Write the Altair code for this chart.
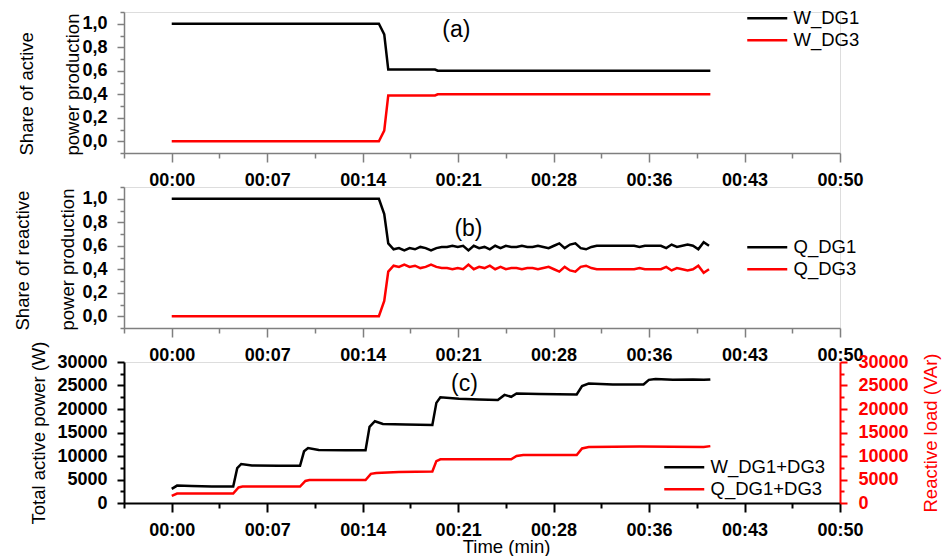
import json
import altair as alt
import pandas as pd

FONT = "Liberation Sans"
BLACK = "#000000"
RED = "#ff0000"
GREY = "#7f7f7f"

# ---------------- time axis (minutes) ----------------
X_MIN, X_MAX = -25 / 7, 50.0
X_TICK_VALUES = [X_MIN + i * 25 / 7 for i in range(16)]
X_TICK_LABELS = ["00:00", "00:07", "00:14", "00:21", "00:28", "00:36", "00:43", "00:50"]

# ---------------- (a) share of active power ----------------
T_ACTIVE = [0.0, 15.5, 15.9, 16.2, 19.7, 19.9, 40.3]
W_DG1 = [1.0, 1.0, 0.91, 0.61, 0.61, 0.60, 0.60]
W_DG3 = [0.0, 0.0, 0.09, 0.39, 0.39, 0.40, 0.40]

# ---------------- (b) share of reactive power ----------------
T_REACTIVE_HEAD = [0.0, 15.5, 15.9, 16.2]
Q_DG1_HEAD = [1.0, 1.0, 0.87, 0.62]
Q_DG3_HEAD = [0.0, 0.0, 0.13, 0.38]
# logged every 0.4 min from 16.6 min on
Q_DG1_TAIL = [0.57, 0.58, 0.56, 0.58, 0.57, 0.59, 0.58, 0.56, 0.58, 0.59,
              0.59, 0.60, 0.59, 0.60, 0.56, 0.60, 0.58, 0.59, 0.57, 0.60,
              0.58, 0.60, 0.59, 0.59, 0.60, 0.59, 0.59, 0.60, 0.59, 0.58,
              0.60, 0.62, 0.58, 0.61, 0.62, 0.58, 0.57, 0.59, 0.60, 0.60,
              0.60, 0.60, 0.60, 0.60, 0.60, 0.60, 0.59, 0.60, 0.60, 0.60,
              0.60, 0.58, 0.61, 0.59, 0.60, 0.61, 0.60, 0.57, 0.63, 0.60]
Q_DG3_TAIL = [0.43, 0.42, 0.44, 0.42, 0.43, 0.41, 0.42, 0.44, 0.42, 0.41,
              0.41, 0.40, 0.41, 0.40, 0.44, 0.40, 0.42, 0.41, 0.43, 0.40,
              0.42, 0.40, 0.41, 0.41, 0.40, 0.41, 0.41, 0.40, 0.41, 0.42,
              0.40, 0.38, 0.42, 0.39, 0.38, 0.42, 0.43, 0.41, 0.40, 0.40,
              0.40, 0.40, 0.40, 0.40, 0.40, 0.40, 0.41, 0.40, 0.40, 0.40,
              0.40, 0.42, 0.39, 0.41, 0.40, 0.39, 0.40, 0.43, 0.37, 0.40]
T_REACTIVE_TAIL = [round(16.6 + 0.4 * i, 1) for i in range(len(Q_DG1_TAIL))]

# ---------------- (c) totals ----------------
T_W_TOTAL = [0.0, 0.4, 1.5, 3.0, 4.6, 4.9, 5.2, 6.0, 8.0, 9.6, 9.9, 10.2, 11.0,
             13.0, 14.5, 14.8, 15.2, 15.8, 17.5, 19.5, 19.8, 20.1, 21.5, 23.0,
             24.4, 24.9, 25.4, 25.8, 27.5, 30.3, 30.7, 31.2, 33.0, 35.3, 35.7,
             36.2, 37.5, 39.0, 39.8, 40.3]
W_TOTAL = [3000, 3700, 3600, 3500, 3500, 7400, 8300, 8000, 7900, 7900, 11000,
           11700, 11300, 11200, 11200, 16200, 17400, 16800, 16700, 16600, 21300,
           22500, 22200, 22000, 21900, 23000, 22600, 23300, 23200, 23100, 24900,
           25400, 25200, 25200, 26200, 26400, 26200, 26300, 26200, 26300]
T_Q_TOTAL = [0.0, 0.4, 4.6, 5.0, 5.3, 9.6, 10.0, 10.3, 14.5, 14.9, 15.3, 17.0,
             19.5, 19.8, 20.1, 23.0, 25.4, 25.8, 26.3, 30.3, 30.7, 31.2, 35.0,
             39.8, 40.3]
Q_TOTAL = [1500, 2000, 2000, 3300, 3500, 3500, 4700, 4900, 4900, 6200, 6400,
           6600, 6700, 8900, 9300, 9300, 9300, 10000, 10200, 10200, 11600, 11900,
           12000, 11900, 12100]

PANEL_TAGS = ["(a)", "(b)", "(c)"]
TAG_T = [21.3, 22.2, 21.9]
TAG_V = [0.95, 0.74, 25300]

W = 716
H = 141

MAJOR_X = "abs(datum.value*7/50 - round(datum.value*7/50)) < 0.001"
X_LABEL_EXPR = (f"{MAJOR_X} ? {json.dumps(X_TICK_LABELS)}[round(datum.value*7/50)] : ''")


def x_axis(color, width, title=None, **extra):
    kw = dict(
        values=X_TICK_VALUES, labelExpr=X_LABEL_EXPR, labelFlush=False,
        labelOverlap=False, grid=False, domainColor=color, domainWidth=width,
        tickColor=color, tickWidth=width,
        tickSize={"condition": {"test": MAJOR_X, "value": 9}, "value": 5},
        labelFont=FONT, labelFontSize=18, labelFontWeight="bold",
        labelColor=BLACK, labelPadding=9, labelBaseline="top",
    )
    kw.update(extra)
    if title is not None:
        kw.update(title=title, titleFont=FONT, titleFontSize=18.5,
                  titleFontWeight="normal", titleColor=BLACK)
    else:
        kw.update(title=None)
    return alt.Axis(**kw)


X_SCALE = alt.Scale(domain=[X_MIN, X_MAX], nice=False, zero=False)

SHARE_TICKS = [round(-0.1 + 0.1 * i, 1) for i in range(13)]
MAJOR_SHARE = "abs(datum.value*5 - round(datum.value*5)) < 0.001"


def share_axis(title_lines, title_x, line_height):
    return alt.Axis(
        values=SHARE_TICKS, grid=False, labelOverlap=False, labelFlush=False,
        labelExpr=f"{MAJOR_SHARE} ? replace(format(datum.value, '.1f'), '.', ',') : ''",
        tickSize={"condition": {"test": MAJOR_SHARE, "value": 7}, "value": 4},
        domainColor=GREY, domainWidth=1.5, tickColor=GREY, tickWidth=1.5,
        labelFont=FONT, labelFontSize=18, labelFontWeight="bold", labelColor=BLACK,
        labelPadding=10,
        title=title_lines, titleFont=FONT, titleFontSize=18.5, titleFontWeight="normal",
        titleColor=BLACK, titleAngle=270, titleAlign="left", titleBaseline="bottom",
        titleLineHeight=line_height, titleX=title_x, titleY=H + 2,
    )


POWER_TICKS = [2500 * i for i in range(13)]
MAJOR_POWER = "datum.value % 5000 == 0"


def power_axis(color, orient, title, title_x, label_pad):
    return alt.Axis(
        orient=orient, values=POWER_TICKS, grid=False, labelOverlap=False,
        labelFlush=False,
        labelExpr=f"{MAJOR_POWER} ? format(datum.value, 'd') : ''",
        tickSize={"condition": {"test": MAJOR_POWER, "value": 7}, "value": 4},
        domainColor=color, domainWidth=2, tickColor=color, tickWidth=2,
        labelFont=FONT, labelFontSize=18, labelFontWeight="bold", labelColor=color,
        labelPadding=label_pad,
        title=title, titleFont=FONT, titleFontSize=18.5, titleFontWeight="normal",
        titleColor=color, titleAngle=270, titleX=title_x,
    )


# a short horizontal stroke as the legend swatch (unit path scaled by the symbol size)
LEGEND_SWATCH = "M-4,0L4,0"


def legend(x, y):
    return alt.Legend(
        orient="none", legendX=x, legendY=y, title=None, symbolType=LEGEND_SWATCH,
        symbolSize=100, symbolStrokeWidth=2.5, labelFont=FONT, labelFontSize=18.5,
        labelColor=BLACK, labelOffset=17, rowPadding=3,
    )


def tag_layer(i, x_axis_obj, y_scale, y_axis_obj):
    df = pd.DataFrame({"t": [TAG_T[i]], "v": [TAG_V[i]], "tag": [PANEL_TAGS[i]]})
    return alt.Chart(df).mark_text(font=FONT, fontSize=23, color=BLACK).encode(
        x=alt.X("t:Q", scale=X_SCALE, axis=x_axis_obj),
        y=alt.Y("v:Q", scale=y_scale, axis=y_axis_obj),
        text="tag:N",
    )


def share_panel(times, a, b, names, tag_idx, title_lines, title_x, line_h, leg_xy):
    n = len(times)
    df = pd.DataFrame({"t": times * 2, "v": a + b, "s": [names[0]] * n + [names[1]] * n})
    y_scale = alt.Scale(domain=[-0.1, 1.1], nice=False, zero=False)
    xa = x_axis(GREY, 1.5)
    ya = share_axis(title_lines, title_x, line_h)
    line = alt.Chart(df).mark_line(strokeWidth=2.5).encode(
        x=alt.X("t:Q", scale=X_SCALE, axis=xa),
        y=alt.Y("v:Q", scale=y_scale, axis=ya),
        color=alt.Color("s:N", scale=alt.Scale(domain=names, range=[BLACK, RED]),
                        legend=legend(*leg_xy)),
    )
    return alt.layer(line, tag_layer(tag_idx, xa, y_scale, ya)).properties(width=W, height=H)


panel_a = share_panel(T_ACTIVE, W_DG1, W_DG3, ["W_DG1", "W_DG3"], 0,
                      ["Share of active", "power production"], -88, 46, (634, -3))
panel_b = share_panel(T_REACTIVE_HEAD + T_REACTIVE_TAIL,
                      Q_DG1_HEAD + Q_DG1_TAIL, Q_DG3_HEAD + Q_DG3_TAIL,
                      ["Q_DG1", "Q_DG3"], 1,
                      ["Share of reactive", "power production"], -92, 45, (634, 51))

# ---- (c) totals with dual y axes ----
TOTAL_NAMES = ["W_DG1+DG3", "Q_DG1+DG3"]
df_w = pd.DataFrame({"t": T_W_TOTAL, "v": W_TOTAL, "s": TOTAL_NAMES[0]})
df_q = pd.DataFrame({"t": T_Q_TOTAL, "v": Q_TOTAL, "s": TOTAL_NAMES[1]})
power_scale = alt.Scale(domain=[0, 30000], nice=False, zero=False)
color_c = alt.Color("s:N", scale=alt.Scale(domain=TOTAL_NAMES, range=[BLACK, RED]),
                    legend=legend(551, 96))
xa_c = x_axis(BLACK, 2, title="Time (min)", titleX=382, titleY=34, titleBaseline="top")
ya_left = power_axis(BLACK, "left", "Total active power (W)", -76, 10)

left = alt.layer(
    alt.Chart(df_w).mark_line(strokeWidth=2.5).encode(
        x=alt.X("t:Q", scale=X_SCALE, axis=xa_c),
        y=alt.Y("v:Q", scale=power_scale, axis=ya_left),
        color=color_c,
    ),
    tag_layer(2, xa_c, power_scale, ya_left),
)
right = alt.Chart(df_q).mark_line(strokeWidth=2.5).encode(
    x=alt.X("t:Q", scale=X_SCALE, axis=xa_c),
    y=alt.Y("v:Q", scale=power_scale,
            axis=power_axis(RED, "right", "Reactive load (VAr)", 100, 11)),
    color=color_c,
)
panel_c = alt.layer(left, right).resolve_scale(y="independent").properties(width=W, height=H)

chart = alt.vconcat(panel_a, panel_b, panel_c, spacing=34, bounds="flush").resolve_scale(
    x="independent", y="independent", color="independent"
).properties(
    padding={"left": 12, "top": 2, "right": 5, "bottom": 0}
).configure_view(stroke=None).configure(background="white")

chart.save("out.html", embed_options={"renderer": "svg", "actions": False})
